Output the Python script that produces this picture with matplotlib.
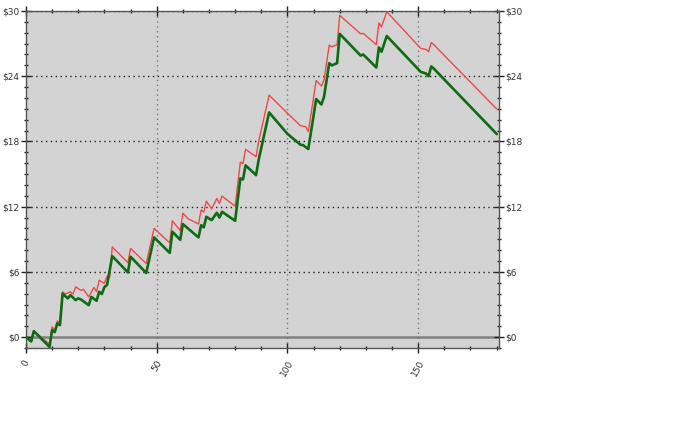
import matplotlib
matplotlib.use('Agg')
import matplotlib.pyplot as plt
from matplotlib.ticker import MultipleLocator, FuncFormatter

# Vertices of the two P&L curves (step index, dollars)
green_x = [0, 2, 3, 9, 10, 11, 12, 13, 14, 16, 17, 19, 20, 21, 24, 25, 27, 28, 29, 30,
           31, 33, 39, 40, 46, 49, 55, 56, 59, 60, 66, 67, 68, 69, 71, 73, 74, 75, 80, 82,
           83, 84, 88, 89, 93, 100, 105, 106, 108, 111, 113, 114, 116, 117, 119, 120, 128, 129, 134, 135,
           136, 138, 151, 153, 154, 155, 156, 180]
green_y = [0.0, -0.4, 0.55, -0.9, 0.64, 0.46, 1.26, 1.1, 4.0, 3.56, 3.86, 3.4, 3.56, 3.47, 2.94, 3.7, 3.34, 4.17, 3.96, 4.6,
           4.8, 7.45, 5.95, 7.4, 5.9, 9.17, 7.75, 9.7, 8.95, 10.4, 9.17, 10.3, 10.1, 11.07, 10.76, 11.44, 11.0, 11.53, 10.7, 14.6,
           14.5, 15.8, 14.9, 16.3, 20.67, 18.7, 17.7, 17.66, 17.3, 21.9, 21.4, 22.1, 25.2, 25.0, 25.2, 27.9, 25.9, 26.0, 24.8, 26.65,
           26.25, 27.7, 24.4, 24.25, 24.0, 24.9, 24.7, 18.7]

red_x = [0, 2, 3, 9, 10, 11, 12, 13, 14, 15, 17, 18, 19, 21, 22, 24, 26, 27, 28, 30,
         31, 32, 33, 39, 40, 46, 49, 50, 55, 56, 59, 60, 62, 66, 67, 68, 69, 71, 73, 74,
         75, 80, 82, 83, 84, 88, 89, 93, 100, 105, 107, 108, 111, 113, 114, 116, 117, 119, 120, 128,
         129, 134, 135, 136, 138, 151, 153, 154, 155, 156, 180]
red_y = [0.0, -0.4, 0.55, -0.64, 0.95, 0.64, 1.5, 1.3, 4.17, 3.96, 4.17, 3.96, 4.63, 4.3, 4.4, 3.7, 4.57, 4.17, 5.24, 4.94,
         5.6, 5.5, 8.3, 6.84, 8.16, 6.78, 10.0, 9.78, 8.67, 10.7, 9.8, 11.4, 10.9, 10.4, 11.7, 11.5, 12.5, 11.8, 12.76, 12.3,
         12.97, 12.05, 16.1, 15.95, 17.27, 16.6, 18.0, 22.26, 20.6, 19.45, 19.35, 18.9, 23.6, 23.1, 23.64, 26.86, 26.7, 26.9, 29.6, 27.9,
         27.95, 26.9, 28.9, 28.55, 29.93, 26.56, 26.47, 26.25, 27.1, 26.9, 21.0]

x_ticks = [0, 50, 100, 150]
y_ticks = [0, 6, 12, 18, 24, 30]

fig = plt.figure(figsize=(7, 4.38), dpi=100)
ax = fig.add_axes([0.0371, 0.2055, 0.6760, 0.7694])
ax.set_facecolor('#d3d3d3')

# Zero line and grid
ax.axhline(0, color='#808080', linewidth=1.8, zorder=1)
for y in y_ticks[1:]:
    ax.axhline(y, color='#222222', linestyle=(0, (1, 2.5)), linewidth=1.0, zorder=1)
for x in x_ticks[1:]:
    ax.axvline(x, color='#777777', linestyle=(0, (1, 2.5)), linewidth=1.0, zorder=1)

# Curves
ax.plot(red_x, red_y, color='#f04848', linewidth=1.0, zorder=3)
ax.plot(green_x, green_y, color='#0f6a14', linewidth=1.9, zorder=4)

ax.set_xlim(0, 181)
ax.set_ylim(-1, 30)

# Axis ticks
ax.set_xticks(x_ticks)
ax.xaxis.set_minor_locator(MultipleLocator(10))
ax.set_yticks(y_ticks)
ax.yaxis.set_minor_locator(MultipleLocator(1))
ax.yaxis.set_major_formatter(FuncFormatter(lambda v, p: f'${int(v)}'))
ax.tick_params(which='both', direction='inout', top=True, right=True, labelright=True,
               color='#222222', labelcolor='#333333', labelsize=6.5)
ax.tick_params(which='major', length=7, width=1.0, pad=1)
ax.tick_params(which='minor', length=3.5, width=1.0)
ax.tick_params(axis='x', which='major', pad=4)
plt.setp(ax.get_xticklabels(), rotation=60)

for s in ax.spines.values():
    s.set_color('#555555')
    s.set_linewidth(1.0)

fig.savefig('out.png', dpi=100)
